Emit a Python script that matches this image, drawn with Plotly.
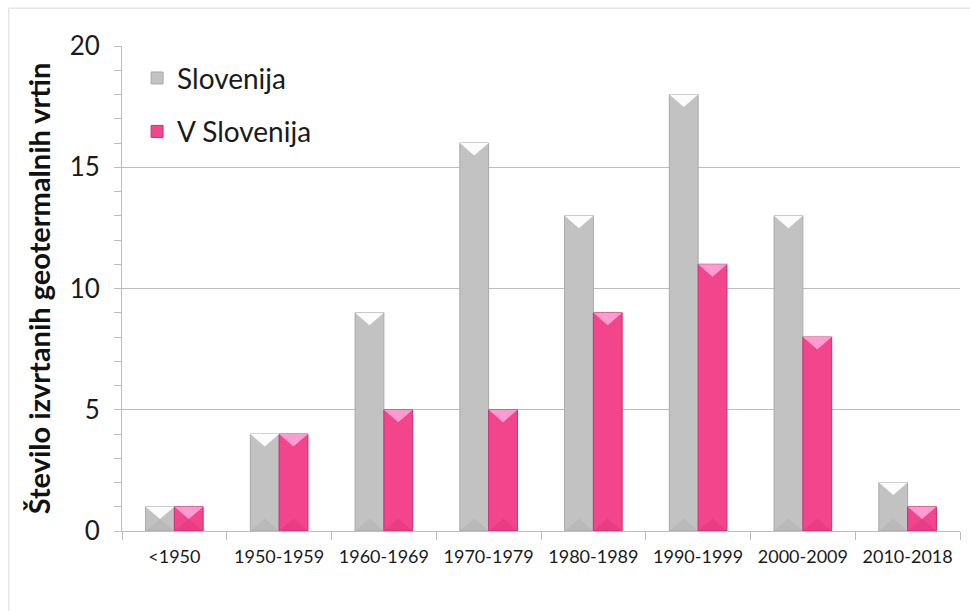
import plotly.graph_objects as go

categories = ["<1950", "1950-1959", "1960-1969", "1970-1979", "1980-1989", "1990-1999", "2000-2009", "2010-2018"]
slovenija = [1, 4, 9, 16, 13, 18, 13, 2]
v_slovenija = [1, 4, 5, 5, 9, 11, 8, 1]
y_ticks = [0, 5, 10, 15, 20]

FONT = "Lato, 'Open Sans', sans-serif"
GRAY = "#c2c2c2"
PINK = "#f3458b"

fig = go.Figure()
fig.add_trace(go.Bar(
    x=categories, y=slovenija, name="Slovenija", legendgroup="a",
    marker=dict(color=GRAY, line=dict(color="#a9a9a9", width=1)),
))
fig.add_trace(go.Bar(
    x=categories, y=v_slovenija, name="V Slovenija", legendgroup="b",
    marker=dict(color=PINK, line=dict(color="#c8316d", width=1)),
))

# bevel decoration (shapes derived from the data, on an overlay linear axis)
n = len(categories)
bargap = 0.45
bw = (1 - bargap) / 2
cap = 0.52  # depth of top bevel in data units
shapes = []
for series, off, top_col, base_col in ((slovenija, -1, "rgba(255,255,255,0.95)", "rgba(170,170,170,0.35)"),
                                        (v_slovenija, 0, "rgba(255,160,215,0.95)", "rgba(200,40,110,0.25)")):
    for i, v in enumerate(series):
        x0 = i + off * bw
        x1 = x0 + bw
        xm = (x0 + x1) / 2
        d = min(cap, v * 0.5)
        shapes.append(dict(type="path", xref="x2", yref="y", layer="above",
                           path=f"M {x0},{v} L {x1},{v} L {xm},{v - d} Z",
                           fillcolor=top_col, line=dict(width=0)))
        shapes.append(dict(type="path", xref="x2", yref="y", layer="above",
                           path=f"M {x0},0 L {x1},0 L {xm},{d} Z",
                           fillcolor=base_col, line=dict(width=0)))

shapes.append(dict(type="rect", xref="paper", yref="paper",
                   x0=-0.135, x1=1.03, y0=-0.2, y1=1.078,
                   line=dict(color="#d9d9d9", width=1), fillcolor="rgba(0,0,0,0)", layer="below"))

# invisible trace to activate overlay axis
fig.add_trace(go.Scatter(x=[0], y=[0], xaxis="x2", mode="markers", showlegend=False,
                         hoverinfo="skip", marker=dict(opacity=0)))

fig.update_layout(
    width=970, height=611,
    margin=dict(l=122, r=10, t=46, b=80),
    paper_bgcolor="white", plot_bgcolor="white",
    barmode="group", bargap=bargap, bargroupgap=0,
    font=dict(family=FONT, color="#1a1a1a"),
    legend=dict(
        x=0.018, y=0.985, xanchor="left", yanchor="top",
        font=dict(size=28, color="#1a1a1a"), bgcolor="rgba(0,0,0,0)",
        tracegroupgap=14, traceorder="grouped", itemwidth=30,
    ),
    xaxis=dict(
        type="category", showgrid=False, showline=True, linecolor="#bdbdbd", linewidth=1,
        ticks="outside", tickson="boundaries", ticklen=8, tickcolor="#bdbdbd",
        tickfont=dict(size=18, color="#1a1a1a"), ticklabelstandoff=9, automargin=False,
    ),
    xaxis2=dict(
        overlaying="x", range=[-0.5, n - 0.5], visible=False, fixedrange=True,
    ),
    yaxis=dict(
        range=[0, 20], tickvals=y_ticks, showgrid=True, gridcolor="#bdbdbd", gridwidth=1,
        showline=True, linecolor="#bdbdbd", linewidth=1, zeroline=False,
        ticks="outside", ticklen=7, tickcolor="#bdbdbd",
        tickfont=dict(size=26, color="#1a1a1a"), ticklabelstandoff=9, automargin=False,
        minor=dict(dtick=1, ticks="outside", ticklen=7, tickcolor="#bdbdbd", showgrid=False),
        title=dict(text="Število izvrtanih geotermalnih vrtin",
                   font=dict(size=29, color="#111", family=FONT, weight="bold"), standoff=10),
    ),
    shapes=shapes,
)

fig.write_html("out.html", config={"displayModeBar": False},
               post_script="document.body.style.margin='0';")
